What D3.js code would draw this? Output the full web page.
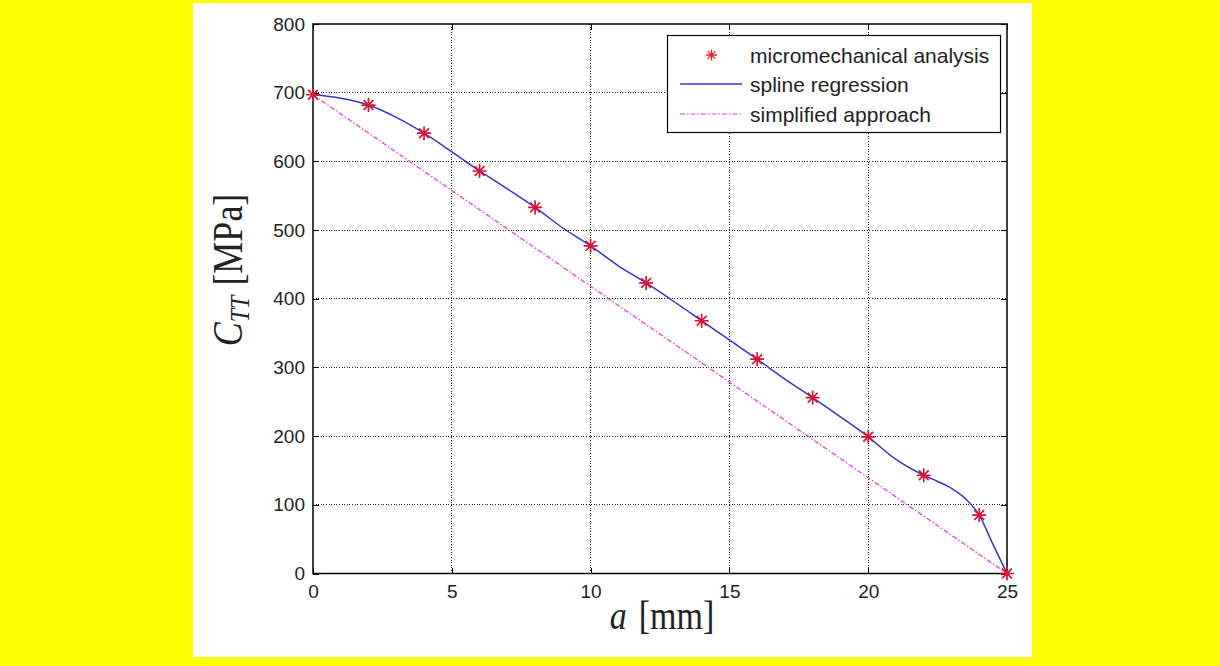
<!DOCTYPE html>
<html>
<head>
<meta charset="utf-8">
<script src="https://cdn.jsdelivr.net/npm/d3@7"></script>
<style>
  html, body { margin: 0; padding: 0; background: #ffff00; }
  svg { display: block; }
</style>
</head>
<body>
<svg id="chart" width="1220" height="666"></svg>
<script>
// ---- data ----
const xTicks = [0, 5, 10, 15, 20, 25];
const yTicks = [0, 100, 200, 300, 400, 500, 600, 700, 800];

const aMicro = [0, 2, 4, 6, 8, 10, 12, 14, 16, 18, 20, 22, 24, 25];
const cMicro = [697, 682, 641, 586, 533, 477, 423, 368, 312, 256, 199, 143, 85, 0];

const aSpline = [0, 1, 2, 3, 4, 5, 6, 7, 8, 9, 10, 11, 12, 13, 14, 15, 16, 17, 18, 19, 20, 21, 22, 22.5, 23, 23.5, 24, 24.5, 25];
const cSpline = [697, 692, 682, 664, 641, 614, 586, 560, 533, 503, 477, 448, 423, 396, 368, 340, 312, 283, 256, 228, 199, 166, 143, 134, 124, 109, 85, 42, 0];

const aSimple = [0, 25];
const cSimple = [697, 0];

const legendLabels = ["micromechanical analysis", "spline regression", "simplified approach"];

// ---- layout ----
const svg = d3.select("#chart");
const W = 1220, H = 666;
const plot = { left: 313, right: 1007, top: 24, bottom: 573.5 };

svg.append("rect").attr("x", 0).attr("y", 0).attr("width", W).attr("height", H).attr("fill", "#ffff00");
svg.append("rect").attr("x", 193).attr("y", 3).attr("width", 839).attr("height", 654).attr("fill", "#ffffff");

const x = d3.scaleLinear().domain([0, 25]).range([plot.left, plot.right]);
const y = d3.scaleLinear().domain([0, 800]).range([plot.bottom, plot.top]);

// grid
const grid = svg.append("g").attr("stroke", "#222").attr("stroke-width", 1)
  .attr("stroke-dasharray", "1,1.6").attr("shape-rendering", "crispEdges");
xTicks.filter(t => t > 0 && t < 25).forEach(t => {
  grid.append("line").attr("x1", x(t)).attr("x2", x(t)).attr("y1", plot.top).attr("y2", plot.bottom);
});
yTicks.filter(t => t > 0 && t < 800).forEach(t => {
  grid.append("line").attr("x1", plot.left).attr("x2", plot.right).attr("y1", y(t)).attr("y2", y(t));
});

// axes
const tickFont = "Liberation Sans, Arial, sans-serif";
const gx = svg.append("g").attr("transform", `translate(0,${plot.bottom})`)
  .call(d3.axisBottom(x).tickValues(xTicks).tickSizeInner(-6).tickSizeOuter(0).tickPadding(11).tickFormat(d3.format("d")));
const gy = svg.append("g").attr("transform", `translate(${plot.left},0)`)
  .call(d3.axisLeft(y).tickValues(yTicks).tickSizeInner(-6).tickSizeOuter(0).tickPadding(8).tickFormat(d3.format("d")));
const gxt = svg.append("g").attr("transform", `translate(0,${plot.top})`)
  .call(d3.axisTop(x).tickValues(xTicks).tickSizeInner(-6).tickSizeOuter(0).tickFormat(""));
const gyr = svg.append("g").attr("transform", `translate(${plot.right},0)`)
  .call(d3.axisRight(y).tickValues(yTicks).tickSizeInner(-6).tickSizeOuter(0).tickFormat(""));
[gx, gy, gxt, gyr].forEach(g => {
  g.select(".domain").remove();
  g.selectAll(".tick line").attr("stroke", "#000").attr("stroke-width", 1).attr("shape-rendering", "crispEdges");
  g.selectAll(".tick text").attr("font-family", tickFont).attr("font-size", 19).attr("fill", "#222");
});

// frame
svg.append("rect").attr("x", plot.left).attr("y", plot.top)
  .attr("width", plot.right - plot.left).attr("height", plot.bottom - plot.top)
  .attr("fill", "none").attr("stroke", "#000").attr("stroke-width", 1.5);

// simplified approach (dash-dot magenta)
const line = d3.line().x(d => x(d[0])).y(d => y(d[1]));
svg.append("path")
  .datum(aSimple.map((a, i) => [a, cSimple[i]]))
  .attr("d", line)
  .attr("fill", "none").attr("stroke", "#e633e6").attr("stroke-width", 1.2)
  .attr("stroke-dasharray", "5,2,1.5,2");

// spline regression
svg.append("path")
  .datum(aSpline.map((a, i) => [a, cSpline[i]]))
  .attr("d", line.curve(d3.curveMonotoneX))
  .attr("fill", "none").attr("stroke", "#3434d2").attr("stroke-width", 1.5);

// star markers
function starPath(r) {
  const d = r * 0.7;
  return `M${-r},0L${r},0M0,${-r}L0,${r}M${-d},${-d}L${d},${d}M${-d},${d}L${d},${-d}`;
}
svg.append("g").selectAll("path")
  .data(aMicro.map((a, i) => [a, cMicro[i]]))
  .join("path")
  .attr("transform", d => `translate(${x(d[0])},${y(d[1])})`)
  .attr("d", starPath(7))
  .attr("fill", "none").attr("stroke", "#d81438").attr("stroke-width", 1.7);

// legend
const lg = svg.append("g");
lg.append("rect").attr("x", 667.5).attr("y", 35.5).attr("width", 333).attr("height", 97)
  .attr("fill", "#fff").attr("stroke", "#000").attr("stroke-width", 1.2);
const rowsY = [55, 84, 114];
lg.append("path").attr("transform", `translate(711.5,${rowsY[0]})`).attr("d", starPath(5.5))
  .attr("fill", "none").attr("stroke", "#e8202a").attr("stroke-width", 1.3);
lg.append("line").attr("x1", 680).attr("x2", 742).attr("y1", rowsY[1]).attr("y2", rowsY[1])
  .attr("stroke", "#3434d2").attr("stroke-width", 1.5);
lg.append("line").attr("x1", 680).attr("x2", 742).attr("y1", rowsY[2]).attr("y2", rowsY[2])
  .attr("stroke", "#e633e6").attr("stroke-width", 1.2).attr("stroke-dasharray", "5,2,1.5,2");
legendLabels.forEach((t, i) => {
  lg.append("text").attr("x", 750).attr("y", rowsY[i] + 8)
    .attr("font-family", tickFont).attr("font-size", 21).attr("fill", "#222").text(t);
});

// axis titles
const serif = "Liberation Serif, Times New Roman, serif";
const xt = svg.append("text").attr("transform", "translate(662,629) scale(1,1.2)")
  .attr("text-anchor", "middle").attr("font-family", serif).attr("font-size", 34).attr("fill", "#222");
xt.append("tspan").attr("font-style", "italic").text("a");
xt.append("tspan").attr("dx", 12).text("[mm]");

const yt = svg.append("text").attr("transform", "translate(242,270) rotate(-90) scale(1,1.15)")
  .attr("text-anchor", "middle").attr("font-family", serif).attr("font-size", 36).attr("fill", "#222");
yt.append("tspan").attr("font-style", "italic").text("C");
yt.append("tspan").attr("font-style", "italic").attr("font-size", 24).attr("dy", 6).text("TT");
yt.append("tspan").attr("dy", -6).attr("dx", 10).text("[MPa]");
</script>
</body>
</html>
